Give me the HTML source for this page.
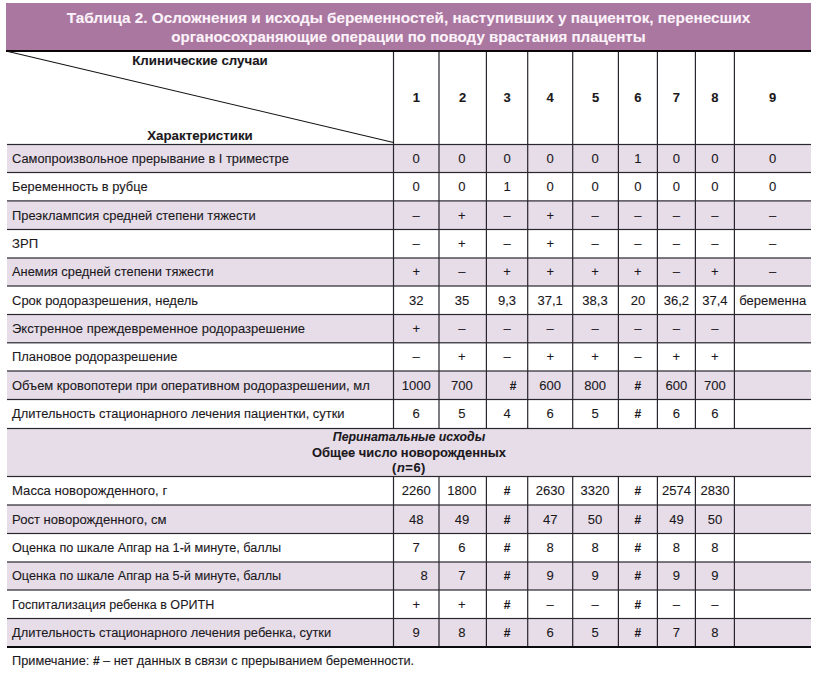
<!DOCTYPE html>
<html><head><meta charset="utf-8"><style>
html,body{margin:0;padding:0;background:#fff;width:817px;height:681px;overflow:hidden}
body{position:relative;font-family:"Liberation Sans",sans-serif}
div{position:absolute;box-sizing:border-box;-webkit-text-stroke:0.1px currentColor}
</style></head><body>
<div style="left:6px;top:3px;width:805px;height:47px;background:#aa77a0"></div>
<div style="left:6px;top:50px;width:805px;height:2px;background:#0a0509"></div>
<div style="left:6px;top:8px;width:805px;text-align:center;color:#fcf3fa;font-weight:bold;font-size:15.3px;line-height:19.2px;white-space:nowrap">Таблица 2. Осложнения и исходы беременностей, наступивших у пациенток, перенесших</div>
<div style="left:6px;top:27.3px;width:805px;text-align:center;color:#fcf3fa;font-weight:bold;font-size:15.1px;line-height:19.2px;white-space:nowrap">органосохраняющие операции по поводу врастания плаценты</div>
<div style="left:7px;top:53px;width:386px;text-align:center;font-weight:bold;font-size:13.3px;line-height:16px;color:#1b181c;white-space:nowrap">Клинические случаи</div>
<div style="left:7px;top:128px;width:386px;text-align:center;font-weight:bold;font-size:13.3px;line-height:16px;color:#1b181c;white-space:nowrap">Характеристики</div>
<div style="left:393.5px;top:52px;width:45.5px;height:92px;line-height:92px;text-align:center;font-weight:bold;font-size:13px;color:#1b181c">1</div>
<div style="left:439.0px;top:52px;width:47.39999999999998px;height:92px;line-height:92px;text-align:center;font-weight:bold;font-size:13px;color:#1b181c">2</div>
<div style="left:486.4px;top:52px;width:41.30000000000007px;height:92px;line-height:92px;text-align:center;font-weight:bold;font-size:13px;color:#1b181c">3</div>
<div style="left:527.7px;top:52px;width:45.0px;height:92px;line-height:92px;text-align:center;font-weight:bold;font-size:13px;color:#1b181c">4</div>
<div style="left:572.7px;top:52px;width:45.69999999999993px;height:92px;line-height:92px;text-align:center;font-weight:bold;font-size:13px;color:#1b181c">5</div>
<div style="left:618.4px;top:52px;width:39.0px;height:92px;line-height:92px;text-align:center;font-weight:bold;font-size:13px;color:#1b181c">6</div>
<div style="left:657.4px;top:52px;width:38.0px;height:92px;line-height:92px;text-align:center;font-weight:bold;font-size:13px;color:#1b181c">7</div>
<div style="left:695.4px;top:52px;width:39.0px;height:92px;line-height:92px;text-align:center;font-weight:bold;font-size:13px;color:#1b181c">8</div>
<div style="left:734.4px;top:52px;width:76.60000000000002px;height:92px;line-height:92px;text-align:center;font-weight:bold;font-size:13px;color:#1b181c">9</div>
<div style="left:7px;top:144.5px;width:804px;height:28.0px;background:#e6dde8"></div>
<div style="left:11.5px;top:148.90px;height:20px;line-height:20px;font-size:13.05px;color:#1b181c;white-space:nowrap;transform:scaleX(0.9867);transform-origin:0 0">Самопроизвольное прерывание в I триместре</div>
<div style="left:393.5px;top:148.90px;width:45.5px;height:20px;line-height:20px;text-align:center;font-size:13.05px;color:#1b181c;white-space:nowrap;">0</div>
<div style="left:438.2px;top:148.90px;width:47.39999999999998px;height:20px;line-height:20px;text-align:center;font-size:13.05px;color:#1b181c;white-space:nowrap;">0</div>
<div style="left:486.4px;top:148.90px;width:41.30000000000007px;height:20px;line-height:20px;text-align:center;font-size:13.05px;color:#1b181c;white-space:nowrap;">0</div>
<div style="left:527.7px;top:148.90px;width:45.0px;height:20px;line-height:20px;text-align:center;font-size:13.05px;color:#1b181c;white-space:nowrap;">0</div>
<div style="left:572.2px;top:148.90px;width:45.69999999999993px;height:20px;line-height:20px;text-align:center;font-size:13.05px;color:#1b181c;white-space:nowrap;">0</div>
<div style="left:618.4px;top:148.90px;width:39.0px;height:20px;line-height:20px;text-align:center;font-size:13.05px;color:#1b181c;white-space:nowrap;">1</div>
<div style="left:657.4px;top:148.90px;width:38.0px;height:20px;line-height:20px;text-align:center;font-size:13.05px;color:#1b181c;white-space:nowrap;">0</div>
<div style="left:695.4px;top:148.90px;width:39.0px;height:20px;line-height:20px;text-align:center;font-size:13.05px;color:#1b181c;white-space:nowrap;">0</div>
<div style="left:734.4px;top:148.90px;width:76.60000000000002px;height:20px;line-height:20px;text-align:center;font-size:13.05px;color:#1b181c;white-space:nowrap;">0</div>
<div style="left:11.5px;top:177.10px;height:20px;line-height:20px;font-size:13.05px;color:#1b181c;white-space:nowrap;transform:scaleX(0.986);transform-origin:0 0">Беременность в рубце</div>
<div style="left:393.5px;top:177.10px;width:45.5px;height:20px;line-height:20px;text-align:center;font-size:13.05px;color:#1b181c;white-space:nowrap;">0</div>
<div style="left:438.2px;top:177.10px;width:47.39999999999998px;height:20px;line-height:20px;text-align:center;font-size:13.05px;color:#1b181c;white-space:nowrap;">0</div>
<div style="left:486.4px;top:177.10px;width:41.30000000000007px;height:20px;line-height:20px;text-align:center;font-size:13.05px;color:#1b181c;white-space:nowrap;">1</div>
<div style="left:527.7px;top:177.10px;width:45.0px;height:20px;line-height:20px;text-align:center;font-size:13.05px;color:#1b181c;white-space:nowrap;">0</div>
<div style="left:572.2px;top:177.10px;width:45.69999999999993px;height:20px;line-height:20px;text-align:center;font-size:13.05px;color:#1b181c;white-space:nowrap;">0</div>
<div style="left:618.4px;top:177.10px;width:39.0px;height:20px;line-height:20px;text-align:center;font-size:13.05px;color:#1b181c;white-space:nowrap;">0</div>
<div style="left:657.4px;top:177.10px;width:38.0px;height:20px;line-height:20px;text-align:center;font-size:13.05px;color:#1b181c;white-space:nowrap;">0</div>
<div style="left:695.4px;top:177.10px;width:39.0px;height:20px;line-height:20px;text-align:center;font-size:13.05px;color:#1b181c;white-space:nowrap;">0</div>
<div style="left:734.4px;top:177.10px;width:76.60000000000002px;height:20px;line-height:20px;text-align:center;font-size:13.05px;color:#1b181c;white-space:nowrap;">0</div>
<div style="left:7px;top:200.9px;width:804px;height:28.599999999999994px;background:#e6dde8"></div>
<div style="left:11.5px;top:205.60px;height:20px;line-height:20px;font-size:13.05px;color:#1b181c;white-space:nowrap;transform:scaleX(0.9886);transform-origin:0 0">Преэклампсия средней степени тяжести</div>
<div style="left:393.5px;top:205.60px;width:45.5px;height:20px;line-height:20px;text-align:center;font-size:13.05px;color:#1b181c;white-space:nowrap;">–</div>
<div style="left:438.2px;top:205.60px;width:47.39999999999998px;height:20px;line-height:20px;text-align:center;font-size:13.05px;color:#1b181c;white-space:nowrap;">+</div>
<div style="left:486.4px;top:205.60px;width:41.30000000000007px;height:20px;line-height:20px;text-align:center;font-size:13.05px;color:#1b181c;white-space:nowrap;">–</div>
<div style="left:527.7px;top:205.60px;width:45.0px;height:20px;line-height:20px;text-align:center;font-size:13.05px;color:#1b181c;white-space:nowrap;">+</div>
<div style="left:572.2px;top:205.60px;width:45.69999999999993px;height:20px;line-height:20px;text-align:center;font-size:13.05px;color:#1b181c;white-space:nowrap;">–</div>
<div style="left:618.4px;top:205.60px;width:39.0px;height:20px;line-height:20px;text-align:center;font-size:13.05px;color:#1b181c;white-space:nowrap;">–</div>
<div style="left:657.4px;top:205.60px;width:38.0px;height:20px;line-height:20px;text-align:center;font-size:13.05px;color:#1b181c;white-space:nowrap;">–</div>
<div style="left:695.4px;top:205.60px;width:39.0px;height:20px;line-height:20px;text-align:center;font-size:13.05px;color:#1b181c;white-space:nowrap;">–</div>
<div style="left:734.4px;top:205.60px;width:76.60000000000002px;height:20px;line-height:20px;text-align:center;font-size:13.05px;color:#1b181c;white-space:nowrap;">–</div>
<div style="left:11.5px;top:234.15px;height:20px;line-height:20px;font-size:13.05px;color:#1b181c;white-space:nowrap;transform:scaleX(1.0042);transform-origin:0 0">ЗРП</div>
<div style="left:393.5px;top:234.15px;width:45.5px;height:20px;line-height:20px;text-align:center;font-size:13.05px;color:#1b181c;white-space:nowrap;">–</div>
<div style="left:438.2px;top:234.15px;width:47.39999999999998px;height:20px;line-height:20px;text-align:center;font-size:13.05px;color:#1b181c;white-space:nowrap;">+</div>
<div style="left:486.4px;top:234.15px;width:41.30000000000007px;height:20px;line-height:20px;text-align:center;font-size:13.05px;color:#1b181c;white-space:nowrap;">–</div>
<div style="left:527.7px;top:234.15px;width:45.0px;height:20px;line-height:20px;text-align:center;font-size:13.05px;color:#1b181c;white-space:nowrap;">+</div>
<div style="left:572.2px;top:234.15px;width:45.69999999999993px;height:20px;line-height:20px;text-align:center;font-size:13.05px;color:#1b181c;white-space:nowrap;">–</div>
<div style="left:618.4px;top:234.15px;width:39.0px;height:20px;line-height:20px;text-align:center;font-size:13.05px;color:#1b181c;white-space:nowrap;">–</div>
<div style="left:657.4px;top:234.15px;width:38.0px;height:20px;line-height:20px;text-align:center;font-size:13.05px;color:#1b181c;white-space:nowrap;">–</div>
<div style="left:695.4px;top:234.15px;width:39.0px;height:20px;line-height:20px;text-align:center;font-size:13.05px;color:#1b181c;white-space:nowrap;">–</div>
<div style="left:734.4px;top:234.15px;width:76.60000000000002px;height:20px;line-height:20px;text-align:center;font-size:13.05px;color:#1b181c;white-space:nowrap;">–</div>
<div style="left:7px;top:258.0px;width:804px;height:28.0px;background:#e6dde8"></div>
<div style="left:11.5px;top:262.40px;height:20px;line-height:20px;font-size:13.05px;color:#1b181c;white-space:nowrap;transform:scaleX(0.9852);transform-origin:0 0">Анемия средней степени тяжести</div>
<div style="left:393.5px;top:262.40px;width:45.5px;height:20px;line-height:20px;text-align:center;font-size:13.05px;color:#1b181c;white-space:nowrap;">+</div>
<div style="left:438.2px;top:262.40px;width:47.39999999999998px;height:20px;line-height:20px;text-align:center;font-size:13.05px;color:#1b181c;white-space:nowrap;">–</div>
<div style="left:486.4px;top:262.40px;width:41.30000000000007px;height:20px;line-height:20px;text-align:center;font-size:13.05px;color:#1b181c;white-space:nowrap;">+</div>
<div style="left:527.7px;top:262.40px;width:45.0px;height:20px;line-height:20px;text-align:center;font-size:13.05px;color:#1b181c;white-space:nowrap;">+</div>
<div style="left:572.2px;top:262.40px;width:45.69999999999993px;height:20px;line-height:20px;text-align:center;font-size:13.05px;color:#1b181c;white-space:nowrap;">+</div>
<div style="left:618.4px;top:262.40px;width:39.0px;height:20px;line-height:20px;text-align:center;font-size:13.05px;color:#1b181c;white-space:nowrap;">+</div>
<div style="left:657.4px;top:262.40px;width:38.0px;height:20px;line-height:20px;text-align:center;font-size:13.05px;color:#1b181c;white-space:nowrap;">–</div>
<div style="left:695.4px;top:262.40px;width:39.0px;height:20px;line-height:20px;text-align:center;font-size:13.05px;color:#1b181c;white-space:nowrap;">+</div>
<div style="left:734.4px;top:262.40px;width:76.60000000000002px;height:20px;line-height:20px;text-align:center;font-size:13.05px;color:#1b181c;white-space:nowrap;">–</div>
<div style="left:11.5px;top:290.65px;height:20px;line-height:20px;font-size:13.05px;color:#1b181c;white-space:nowrap;transform:scaleX(0.9962);transform-origin:0 0">Срок родоразрешения, недель</div>
<div style="left:393.5px;top:290.65px;width:45.5px;height:20px;line-height:20px;text-align:center;font-size:13.05px;color:#1b181c;white-space:nowrap;">32</div>
<div style="left:438.2px;top:290.65px;width:47.39999999999998px;height:20px;line-height:20px;text-align:center;font-size:13.05px;color:#1b181c;white-space:nowrap;">35</div>
<div style="left:486.4px;top:290.65px;width:41.30000000000007px;height:20px;line-height:20px;text-align:center;font-size:13.05px;color:#1b181c;white-space:nowrap;">9,3</div>
<div style="left:527.7px;top:290.65px;width:45.0px;height:20px;line-height:20px;text-align:center;font-size:13.05px;color:#1b181c;white-space:nowrap;">37,1</div>
<div style="left:572.2px;top:290.65px;width:45.69999999999993px;height:20px;line-height:20px;text-align:center;font-size:13.05px;color:#1b181c;white-space:nowrap;">38,3</div>
<div style="left:618.4px;top:290.65px;width:39.0px;height:20px;line-height:20px;text-align:center;font-size:13.05px;color:#1b181c;white-space:nowrap;">20</div>
<div style="left:657.4px;top:290.65px;width:38.0px;height:20px;line-height:20px;text-align:center;font-size:13.05px;color:#1b181c;white-space:nowrap;">36,2</div>
<div style="left:695.4px;top:290.65px;width:39.0px;height:20px;line-height:20px;text-align:center;font-size:13.05px;color:#1b181c;white-space:nowrap;">37,4</div>
<div style="left:734.4px;top:290.65px;width:76.60000000000002px;height:20px;line-height:20px;text-align:center;font-size:13.05px;color:#1b181c;white-space:nowrap;">беременна</div>
<div style="left:7px;top:314.5px;width:804px;height:28.30000000000001px;background:#e6dde8"></div>
<div style="left:11.5px;top:319.05px;height:20px;line-height:20px;font-size:13.05px;color:#1b181c;white-space:nowrap;transform:scaleX(0.9983);transform-origin:0 0">Экстренное преждевременное родоразрешение</div>
<div style="left:393.5px;top:319.05px;width:45.5px;height:20px;line-height:20px;text-align:center;font-size:13.05px;color:#1b181c;white-space:nowrap;">+</div>
<div style="left:438.2px;top:319.05px;width:47.39999999999998px;height:20px;line-height:20px;text-align:center;font-size:13.05px;color:#1b181c;white-space:nowrap;">–</div>
<div style="left:486.4px;top:319.05px;width:41.30000000000007px;height:20px;line-height:20px;text-align:center;font-size:13.05px;color:#1b181c;white-space:nowrap;">–</div>
<div style="left:527.7px;top:319.05px;width:45.0px;height:20px;line-height:20px;text-align:center;font-size:13.05px;color:#1b181c;white-space:nowrap;">–</div>
<div style="left:572.2px;top:319.05px;width:45.69999999999993px;height:20px;line-height:20px;text-align:center;font-size:13.05px;color:#1b181c;white-space:nowrap;">–</div>
<div style="left:618.4px;top:319.05px;width:39.0px;height:20px;line-height:20px;text-align:center;font-size:13.05px;color:#1b181c;white-space:nowrap;">–</div>
<div style="left:657.4px;top:319.05px;width:38.0px;height:20px;line-height:20px;text-align:center;font-size:13.05px;color:#1b181c;white-space:nowrap;">–</div>
<div style="left:695.4px;top:319.05px;width:39.0px;height:20px;line-height:20px;text-align:center;font-size:13.05px;color:#1b181c;white-space:nowrap;">–</div>
<div style="left:11.5px;top:347.30px;height:20px;line-height:20px;font-size:13.05px;color:#1b181c;white-space:nowrap;transform:scaleX(0.9898);transform-origin:0 0">Плановое родоразрешение</div>
<div style="left:393.5px;top:347.30px;width:45.5px;height:20px;line-height:20px;text-align:center;font-size:13.05px;color:#1b181c;white-space:nowrap;">–</div>
<div style="left:438.2px;top:347.30px;width:47.39999999999998px;height:20px;line-height:20px;text-align:center;font-size:13.05px;color:#1b181c;white-space:nowrap;">+</div>
<div style="left:486.4px;top:347.30px;width:41.30000000000007px;height:20px;line-height:20px;text-align:center;font-size:13.05px;color:#1b181c;white-space:nowrap;">–</div>
<div style="left:527.7px;top:347.30px;width:45.0px;height:20px;line-height:20px;text-align:center;font-size:13.05px;color:#1b181c;white-space:nowrap;">+</div>
<div style="left:572.2px;top:347.30px;width:45.69999999999993px;height:20px;line-height:20px;text-align:center;font-size:13.05px;color:#1b181c;white-space:nowrap;">+</div>
<div style="left:618.4px;top:347.30px;width:39.0px;height:20px;line-height:20px;text-align:center;font-size:13.05px;color:#1b181c;white-space:nowrap;">–</div>
<div style="left:657.4px;top:347.30px;width:38.0px;height:20px;line-height:20px;text-align:center;font-size:13.05px;color:#1b181c;white-space:nowrap;">+</div>
<div style="left:695.4px;top:347.30px;width:39.0px;height:20px;line-height:20px;text-align:center;font-size:13.05px;color:#1b181c;white-space:nowrap;">+</div>
<div style="left:7px;top:371.0px;width:804px;height:28.5px;background:#e6dde8"></div>
<div style="left:11.5px;top:375.65px;height:20px;line-height:20px;font-size:13.05px;color:#1b181c;white-space:nowrap;transform:scaleX(0.9928);transform-origin:0 0">Объем кровопотери при оперативном родоразрешении, мл</div>
<div style="left:393.5px;top:375.65px;width:45.5px;height:20px;line-height:20px;text-align:center;font-size:13.05px;color:#1b181c;white-space:nowrap;">1000</div>
<div style="left:438.2px;top:375.65px;width:47.39999999999998px;height:20px;line-height:20px;text-align:center;font-size:13.05px;color:#1b181c;white-space:nowrap;">700</div>
<div style="left:492.4px;top:375.65px;width:41.30000000000007px;height:20px;line-height:20px;text-align:center;font-size:13.05px;color:#1b181c;white-space:nowrap;font-weight:bold;font-size:12px;">#</div>
<div style="left:527.7px;top:375.65px;width:45.0px;height:20px;line-height:20px;text-align:center;font-size:13.05px;color:#1b181c;white-space:nowrap;">600</div>
<div style="left:572.2px;top:375.65px;width:45.69999999999993px;height:20px;line-height:20px;text-align:center;font-size:13.05px;color:#1b181c;white-space:nowrap;">800</div>
<div style="left:618.4px;top:375.65px;width:39.0px;height:20px;line-height:20px;text-align:center;font-size:13.05px;color:#1b181c;white-space:nowrap;font-weight:bold;font-size:12px;">#</div>
<div style="left:657.4px;top:375.65px;width:38.0px;height:20px;line-height:20px;text-align:center;font-size:13.05px;color:#1b181c;white-space:nowrap;">600</div>
<div style="left:695.4px;top:375.65px;width:39.0px;height:20px;line-height:20px;text-align:center;font-size:13.05px;color:#1b181c;white-space:nowrap;">700</div>
<div style="left:11.5px;top:404.40px;height:20px;line-height:20px;font-size:13.05px;color:#1b181c;white-space:nowrap;transform:scaleX(0.9872);transform-origin:0 0">Длительность стационарного лечения пациентки, сутки</div>
<div style="left:393.5px;top:404.40px;width:45.5px;height:20px;line-height:20px;text-align:center;font-size:13.05px;color:#1b181c;white-space:nowrap;">6</div>
<div style="left:438.2px;top:404.40px;width:47.39999999999998px;height:20px;line-height:20px;text-align:center;font-size:13.05px;color:#1b181c;white-space:nowrap;">5</div>
<div style="left:486.4px;top:404.40px;width:41.30000000000007px;height:20px;line-height:20px;text-align:center;font-size:13.05px;color:#1b181c;white-space:nowrap;">4</div>
<div style="left:527.7px;top:404.40px;width:45.0px;height:20px;line-height:20px;text-align:center;font-size:13.05px;color:#1b181c;white-space:nowrap;">6</div>
<div style="left:572.2px;top:404.40px;width:45.69999999999993px;height:20px;line-height:20px;text-align:center;font-size:13.05px;color:#1b181c;white-space:nowrap;">5</div>
<div style="left:618.4px;top:404.40px;width:39.0px;height:20px;line-height:20px;text-align:center;font-size:13.05px;color:#1b181c;white-space:nowrap;font-weight:bold;font-size:12px;">#</div>
<div style="left:657.4px;top:404.40px;width:38.0px;height:20px;line-height:20px;text-align:center;font-size:13.05px;color:#1b181c;white-space:nowrap;">6</div>
<div style="left:695.4px;top:404.40px;width:39.0px;height:20px;line-height:20px;text-align:center;font-size:13.05px;color:#1b181c;white-space:nowrap;">6</div>
<div style="left:7px;top:428.5px;width:804px;height:48px;background:#e6dde8"></div>
<div style="left:7px;top:429.9px;width:804px;text-align:center;font-weight:bold;font-style:italic;font-size:12.3px;line-height:15px;color:#1b181c;white-space:nowrap">Перинатальные исходы</div>
<div style="left:7px;top:445px;width:804px;text-align:center;font-weight:bold;font-size:12.9px;line-height:15px;color:#1b181c;white-space:nowrap">Общее число новорожденных</div>
<div style="left:7px;top:460px;width:804px;text-align:center;font-weight:bold;font-size:12.9px;line-height:15px;letter-spacing:0.55px;color:#1b181c;white-space:nowrap">(<i>n</i>=6)</div>
<div style="left:11.5px;top:481.15px;height:20px;line-height:20px;font-size:13.05px;color:#1b181c;white-space:nowrap;transform:scaleX(1.0072);transform-origin:0 0">Масса новорожденного, г</div>
<div style="left:393.5px;top:481.15px;width:45.5px;height:20px;line-height:20px;text-align:center;font-size:13.05px;color:#1b181c;white-space:nowrap;">2260</div>
<div style="left:438.2px;top:481.15px;width:47.39999999999998px;height:20px;line-height:20px;text-align:center;font-size:13.05px;color:#1b181c;white-space:nowrap;">1800</div>
<div style="left:486.4px;top:481.15px;width:41.30000000000007px;height:20px;line-height:20px;text-align:center;font-size:13.05px;color:#1b181c;white-space:nowrap;font-weight:bold;font-size:12px;">#</div>
<div style="left:527.7px;top:481.15px;width:45.0px;height:20px;line-height:20px;text-align:center;font-size:13.05px;color:#1b181c;white-space:nowrap;">2630</div>
<div style="left:572.2px;top:481.15px;width:45.69999999999993px;height:20px;line-height:20px;text-align:center;font-size:13.05px;color:#1b181c;white-space:nowrap;">3320</div>
<div style="left:618.4px;top:481.15px;width:39.0px;height:20px;line-height:20px;text-align:center;font-size:13.05px;color:#1b181c;white-space:nowrap;font-weight:bold;font-size:12px;">#</div>
<div style="left:657.4px;top:481.15px;width:38.0px;height:20px;line-height:20px;text-align:center;font-size:13.05px;color:#1b181c;white-space:nowrap;">2574</div>
<div style="left:695.4px;top:481.15px;width:39.0px;height:20px;line-height:20px;text-align:center;font-size:13.05px;color:#1b181c;white-space:nowrap;">2830</div>
<div style="left:7px;top:505.0px;width:804px;height:28.5px;background:#e6dde8"></div>
<div style="left:11.5px;top:509.65px;height:20px;line-height:20px;font-size:13.05px;color:#1b181c;white-space:nowrap;transform:scaleX(1.0026);transform-origin:0 0">Рост новорожденного, см</div>
<div style="left:393.5px;top:509.65px;width:45.5px;height:20px;line-height:20px;text-align:center;font-size:13.05px;color:#1b181c;white-space:nowrap;">48</div>
<div style="left:438.2px;top:509.65px;width:47.39999999999998px;height:20px;line-height:20px;text-align:center;font-size:13.05px;color:#1b181c;white-space:nowrap;">49</div>
<div style="left:486.4px;top:509.65px;width:41.30000000000007px;height:20px;line-height:20px;text-align:center;font-size:13.05px;color:#1b181c;white-space:nowrap;font-weight:bold;font-size:12px;">#</div>
<div style="left:527.7px;top:509.65px;width:45.0px;height:20px;line-height:20px;text-align:center;font-size:13.05px;color:#1b181c;white-space:nowrap;">47</div>
<div style="left:572.2px;top:509.65px;width:45.69999999999993px;height:20px;line-height:20px;text-align:center;font-size:13.05px;color:#1b181c;white-space:nowrap;">50</div>
<div style="left:618.4px;top:509.65px;width:39.0px;height:20px;line-height:20px;text-align:center;font-size:13.05px;color:#1b181c;white-space:nowrap;font-weight:bold;font-size:12px;">#</div>
<div style="left:657.4px;top:509.65px;width:38.0px;height:20px;line-height:20px;text-align:center;font-size:13.05px;color:#1b181c;white-space:nowrap;">49</div>
<div style="left:695.4px;top:509.65px;width:39.0px;height:20px;line-height:20px;text-align:center;font-size:13.05px;color:#1b181c;white-space:nowrap;">50</div>
<div style="left:11.5px;top:538.15px;height:20px;line-height:20px;font-size:13.05px;color:#1b181c;white-space:nowrap;transform:scaleX(0.9707);transform-origin:0 0">Оценка по шкале Апгар на 1-й минуте, баллы</div>
<div style="left:393.5px;top:538.15px;width:45.5px;height:20px;line-height:20px;text-align:center;font-size:13.05px;color:#1b181c;white-space:nowrap;">7</div>
<div style="left:438.2px;top:538.15px;width:47.39999999999998px;height:20px;line-height:20px;text-align:center;font-size:13.05px;color:#1b181c;white-space:nowrap;">6</div>
<div style="left:486.4px;top:538.15px;width:41.30000000000007px;height:20px;line-height:20px;text-align:center;font-size:13.05px;color:#1b181c;white-space:nowrap;font-weight:bold;font-size:12px;">#</div>
<div style="left:527.7px;top:538.15px;width:45.0px;height:20px;line-height:20px;text-align:center;font-size:13.05px;color:#1b181c;white-space:nowrap;">8</div>
<div style="left:572.2px;top:538.15px;width:45.69999999999993px;height:20px;line-height:20px;text-align:center;font-size:13.05px;color:#1b181c;white-space:nowrap;">8</div>
<div style="left:618.4px;top:538.15px;width:39.0px;height:20px;line-height:20px;text-align:center;font-size:13.05px;color:#1b181c;white-space:nowrap;font-weight:bold;font-size:12px;">#</div>
<div style="left:657.4px;top:538.15px;width:38.0px;height:20px;line-height:20px;text-align:center;font-size:13.05px;color:#1b181c;white-space:nowrap;">8</div>
<div style="left:695.4px;top:538.15px;width:39.0px;height:20px;line-height:20px;text-align:center;font-size:13.05px;color:#1b181c;white-space:nowrap;">8</div>
<div style="left:7px;top:562.0px;width:804px;height:28.0px;background:#e6dde8"></div>
<div style="left:11.5px;top:566.40px;height:20px;line-height:20px;font-size:13.05px;color:#1b181c;white-space:nowrap;transform:scaleX(0.9707);transform-origin:0 0">Оценка по шкале Апгар на 5-й минуте, баллы</div>
<div style="left:401.5px;top:566.40px;width:45.5px;height:20px;line-height:20px;text-align:center;font-size:13.05px;color:#1b181c;white-space:nowrap;">8</div>
<div style="left:438.2px;top:566.40px;width:47.39999999999998px;height:20px;line-height:20px;text-align:center;font-size:13.05px;color:#1b181c;white-space:nowrap;">7</div>
<div style="left:486.4px;top:566.40px;width:41.30000000000007px;height:20px;line-height:20px;text-align:center;font-size:13.05px;color:#1b181c;white-space:nowrap;font-weight:bold;font-size:12px;">#</div>
<div style="left:527.7px;top:566.40px;width:45.0px;height:20px;line-height:20px;text-align:center;font-size:13.05px;color:#1b181c;white-space:nowrap;">9</div>
<div style="left:572.2px;top:566.40px;width:45.69999999999993px;height:20px;line-height:20px;text-align:center;font-size:13.05px;color:#1b181c;white-space:nowrap;">9</div>
<div style="left:618.4px;top:566.40px;width:39.0px;height:20px;line-height:20px;text-align:center;font-size:13.05px;color:#1b181c;white-space:nowrap;font-weight:bold;font-size:12px;">#</div>
<div style="left:657.4px;top:566.40px;width:38.0px;height:20px;line-height:20px;text-align:center;font-size:13.05px;color:#1b181c;white-space:nowrap;">9</div>
<div style="left:695.4px;top:566.40px;width:39.0px;height:20px;line-height:20px;text-align:center;font-size:13.05px;color:#1b181c;white-space:nowrap;">9</div>
<div style="left:11.5px;top:594.65px;height:20px;line-height:20px;font-size:13.05px;color:#1b181c;white-space:nowrap;transform:scaleX(0.9622);transform-origin:0 0">Госпитализация ребенка в ОРИТН</div>
<div style="left:393.5px;top:594.65px;width:45.5px;height:20px;line-height:20px;text-align:center;font-size:13.05px;color:#1b181c;white-space:nowrap;">+</div>
<div style="left:438.2px;top:594.65px;width:47.39999999999998px;height:20px;line-height:20px;text-align:center;font-size:13.05px;color:#1b181c;white-space:nowrap;">+</div>
<div style="left:486.4px;top:594.65px;width:41.30000000000007px;height:20px;line-height:20px;text-align:center;font-size:13.05px;color:#1b181c;white-space:nowrap;font-weight:bold;font-size:12px;">#</div>
<div style="left:527.7px;top:594.65px;width:45.0px;height:20px;line-height:20px;text-align:center;font-size:13.05px;color:#1b181c;white-space:nowrap;">–</div>
<div style="left:572.2px;top:594.65px;width:45.69999999999993px;height:20px;line-height:20px;text-align:center;font-size:13.05px;color:#1b181c;white-space:nowrap;">–</div>
<div style="left:618.4px;top:594.65px;width:39.0px;height:20px;line-height:20px;text-align:center;font-size:13.05px;color:#1b181c;white-space:nowrap;font-weight:bold;font-size:12px;">#</div>
<div style="left:657.4px;top:594.65px;width:38.0px;height:20px;line-height:20px;text-align:center;font-size:13.05px;color:#1b181c;white-space:nowrap;">–</div>
<div style="left:695.4px;top:594.65px;width:39.0px;height:20px;line-height:20px;text-align:center;font-size:13.05px;color:#1b181c;white-space:nowrap;">–</div>
<div style="left:7px;top:618.5px;width:804px;height:28.5px;background:#e6dde8"></div>
<div style="left:11.5px;top:623.15px;height:20px;line-height:20px;font-size:13.05px;color:#1b181c;white-space:nowrap;transform:scaleX(0.986);transform-origin:0 0">Длительность стационарного лечения ребенка, сутки</div>
<div style="left:393.5px;top:623.15px;width:45.5px;height:20px;line-height:20px;text-align:center;font-size:13.05px;color:#1b181c;white-space:nowrap;">9</div>
<div style="left:438.2px;top:623.15px;width:47.39999999999998px;height:20px;line-height:20px;text-align:center;font-size:13.05px;color:#1b181c;white-space:nowrap;">8</div>
<div style="left:486.4px;top:623.15px;width:41.30000000000007px;height:20px;line-height:20px;text-align:center;font-size:13.05px;color:#1b181c;white-space:nowrap;font-weight:bold;font-size:12px;">#</div>
<div style="left:527.7px;top:623.15px;width:45.0px;height:20px;line-height:20px;text-align:center;font-size:13.05px;color:#1b181c;white-space:nowrap;">6</div>
<div style="left:572.2px;top:623.15px;width:45.69999999999993px;height:20px;line-height:20px;text-align:center;font-size:13.05px;color:#1b181c;white-space:nowrap;">5</div>
<div style="left:618.4px;top:623.15px;width:39.0px;height:20px;line-height:20px;text-align:center;font-size:13.05px;color:#1b181c;white-space:nowrap;font-weight:bold;font-size:12px;">#</div>
<div style="left:657.4px;top:623.15px;width:38.0px;height:20px;line-height:20px;text-align:center;font-size:13.05px;color:#1b181c;white-space:nowrap;">7</div>
<div style="left:695.4px;top:623.15px;width:39.0px;height:20px;line-height:20px;text-align:center;font-size:13.05px;color:#1b181c;white-space:nowrap;">8</div>
<svg style="position:absolute;left:0;top:0" width="817" height="681"><g fill="#2a262e"><rect x="7" y="143.9" width="804" height="1.2"/><rect x="7" y="171.9" width="804" height="1.2"/><rect x="7" y="200.3" width="804" height="1.2"/><rect x="7" y="228.9" width="804" height="1.2"/><rect x="7" y="257.4" width="804" height="1.2"/><rect x="7" y="285.4" width="804" height="1.2"/><rect x="7" y="313.9" width="804" height="1.2"/><rect x="7" y="342.2" width="804" height="1.2"/><rect x="7" y="370.4" width="804" height="1.2"/><rect x="7" y="398.9" width="804" height="1.2"/><rect x="7" y="427.9" width="804" height="1.2"/><rect x="7" y="475.9" width="804" height="1.2"/><rect x="7" y="504.4" width="804" height="1.2"/><rect x="7" y="532.9" width="804" height="1.2"/><rect x="7" y="561.4" width="804" height="1.2"/><rect x="7" y="589.4" width="804" height="1.2"/><rect x="7" y="617.9" width="804" height="1.2"/><rect x="7" y="646" width="804" height="2" fill="#0b0a0c"/><rect x="392.9" y="52" width="1.2" height="376.5"/><rect x="392.9" y="476.5" width="1.2" height="169.5"/><rect x="438.4" y="52" width="1.2" height="376.5"/><rect x="438.4" y="476.5" width="1.2" height="169.5"/><rect x="485.79999999999995" y="52" width="1.2" height="376.5"/><rect x="485.79999999999995" y="476.5" width="1.2" height="169.5"/><rect x="527.1" y="52" width="1.2" height="376.5"/><rect x="527.1" y="476.5" width="1.2" height="169.5"/><rect x="572.1" y="52" width="1.2" height="376.5"/><rect x="572.1" y="476.5" width="1.2" height="169.5"/><rect x="617.8" y="52" width="1.2" height="376.5"/><rect x="617.8" y="476.5" width="1.2" height="169.5"/><rect x="656.8" y="52" width="1.2" height="376.5"/><rect x="656.8" y="476.5" width="1.2" height="169.5"/><rect x="694.8" y="52" width="1.2" height="376.5"/><rect x="694.8" y="476.5" width="1.2" height="169.5"/><rect x="733.8" y="52" width="1.2" height="376.5"/><rect x="733.8" y="476.5" width="1.2" height="169.5"/></g><line x1="7" y1="51.2" x2="393.5" y2="142.4" stroke="#141214" stroke-width="1.05"/></svg>
<div style="left:12px;top:652px;font-size:12.75px;line-height:18px;color:#1b181c;white-space:nowrap">Примечание: <b style='font-size:12px'>#</b> – нет данных в связи с прерыванием беременности.</div>
</body></html>
